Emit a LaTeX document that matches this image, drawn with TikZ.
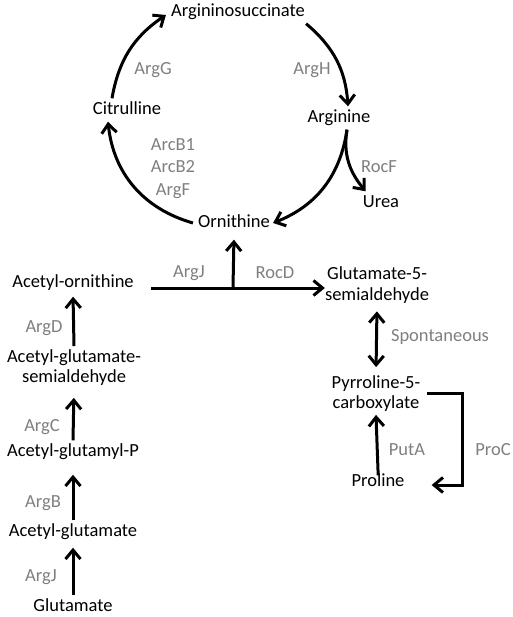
\documentclass[tikz,border=0pt]{standalone}
\usepackage{fontspec}
\setmainfont{Carlito}
\usepackage{tikz}
\definecolor{gray600}{HTML}{7F7F7F}
\usetikzlibrary{arrows.meta}
\tikzstyle{cpd}=[font=\fontsize{18.5}{21}\selectfont, text=black, inner sep=3pt, text height=13pt, text depth=4pt]
\tikzstyle{cpdtwo}=[font=\fontsize{18.5}{20.5}\selectfont, text=black, inner sep=3pt, align=center]
\tikzstyle{enz}=[font=\fontsize{18.5}{22.5}\selectfont, text=gray600, inner sep=2pt, align=center]
\tikzstyle{rxn}=[line width=3pt, -{Straight Barb[length=9pt, width=15pt]}]

\begin{document}
\begin{tikzpicture}[x=1pt, y=1pt]
	\useasboundingbox (0,0) rectangle (512,-617);
	% urea cycle
	\node[cpd] (asu) at (238,-12) {Argininosuccinate};
	\node[cpd] (cit) at (127,-110) {Citrulline};
	\node[cpd] (arg) at (339,-118) {Arginine};
	\node[cpd] (urea) at (381,-203) {Urea};
	\node[cpd] (orn) at (234,-223) {Ornithine};
	\node[enz] (argg) at (153,-70) {ArgG};
	\node[enz] (argh) at (312,-70) {ArgH};
	\node[enz] (arcb) at (173,-168.5) {ArcB1\\ArcB2\\ArgF};
	\node[enz] (rocf) at (379,-167) {RocF};
	\draw[rxn] ([xshift=-15pt]cit.north) to[bend left=23] ([xshift=-2pt,yshift=-3pt]asu.west);
	\draw[rxn] ([xshift=-2pt]asu.south east) to[bend left=23] ([xshift=9pt]arg.north);
	\draw[rxn] ([xshift=8pt]arg.south) to[bend left=30] (orn.east);
	\draw[rxn] ([xshift=8pt]arg.south) to[out=-99, in=130] ([xshift=6pt]urea.north west);
	\draw[rxn] ([xshift=-2pt]orn.west) to[bend left=34] ([xshift=-19pt]cit.south);
	% acetyl branch
	\node[cpd] (aco) at (73,-283) {Acetyl-ornithine};
	\node[cpdtwo] (acgs) at (74,-367.5) {Acetyl-glutamate-\\semialdehyde};
	\node[cpd] (agp) at (73,-452) {Acetyl-glutamyl-P};
	\node[cpd] (acg) at (73,-532) {Acetyl-glutamate};
	\node[cpd] (glu) at (73,-607) {Glutamate};
	\node[enz] (argd) at (44,-328) {ArgD};
	\node[enz] (argc) at (42,-427) {ArgC};
	\node[enz] (argb) at (43,-503) {ArgB};
	\node[enz] (argj1) at (41,-577) {ArgJ};
	\draw[rxn, shorten >=4pt] (glu.north) -- (acg.south);
	\draw[rxn, shorten >=11pt] (acg.north) -- (agp.south);
	\draw[rxn, shorten >=9pt] (agp.north) -- (acgs.south);
	\draw[rxn, shorten >=2pt] (acgs.north) -- (aco.south);
	% proline branch
	\coordinate (jn) at (233,-288);
	\node[cpdtwo] (g5s) at (377,-285) {Glutamate-5-\\semialdehyde};
	\node[cpdtwo] (p5c) at (376,-393.5) {Pyrroline-5-\\carboxylate};
	\node[cpd] (pro) at (378,-482) {Proline};
	\node[enz] (argj2) at (189,-273) {ArgJ};
	\node[enz] (rocd) at (275,-273) {RocD};
	\node[enz] (spon) at (440,-337) {Spontaneous};
	\node[enz] (puta) at (407,-450) {PutA};
	\node[enz] (proc) at (493,-450) {ProC};
	\draw[rxn, shorten <=14pt, shorten >=-3pt] (aco.east |- jn) -- (jn -| g5s.west);
	\draw[rxn, shorten >=5pt] (jn) -- (orn.south);
	\draw[rxn, {Straight Barb[length=9pt, width=15pt]}-{Straight Barb[length=9pt, width=15pt]}, shorten <=5pt, shorten >=5pt] (g5s.south) -- (p5c.north);
	\draw[rxn, shorten <=-5pt] (pro.north) -- (p5c.south);
	\draw[rxn] ([xshift=4pt]p5c.east) -- ++(35,0) |- ([xshift=24pt,yshift=-3pt]pro.east);
\end{tikzpicture}
\end{document}
